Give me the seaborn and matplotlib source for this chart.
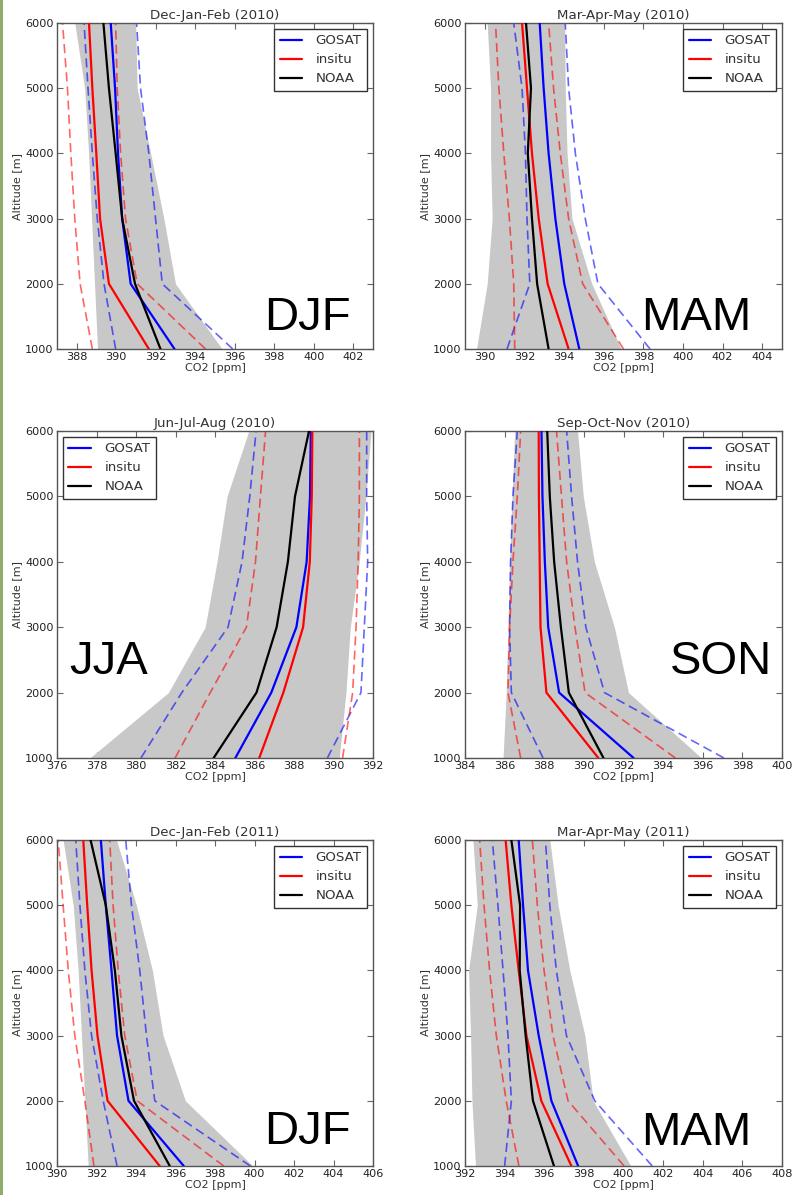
import matplotlib
matplotlib.use("Agg")
import matplotlib.pyplot as plt
from matplotlib.patches import Rectangle
import seaborn as sns

# ---------------- data ----------------
ALT = [1000, 2000, 3000, 4000, 5000, 6000]

# Dec-Jan-Feb 2010
DJF10_GOSAT = [392.95, 390.73, 390.30, 390.09, 389.94, 389.72]
DJF10_INSITU = [391.65, 389.63, 389.18, 388.99, 388.79, 388.62]
DJF10_NOAA = [392.24, 390.95, 390.30, 389.97, 389.63, 389.35]
DJF10_GOSAT_LO = [389.97, 389.38, 389.04, 388.79, 388.57, 388.37]
DJF10_GOSAT_HI = [395.90, 392.33, 391.99, 391.65, 391.23, 391.03]
DJF10_INSITU_LO = [388.79, 388.17, 387.90, 387.70, 387.53, 387.28]
DJF10_INSITU_HI = [394.52, 391.06, 390.47, 390.22, 390.05, 389.97]
DJF10_NOAA_LO = [389.05, 388.90, 388.75, 388.60, 388.40, 387.90]
DJF10_NOAA_HI = [395.36, 393.00, 392.41, 391.74, 391.06, 390.98]

# Mar-Apr-May 2010
MAM10_GOSAT = [394.77, 394.01, 393.56, 393.22, 392.97, 392.77]
MAM10_INSITU = [394.23, 393.17, 392.72, 392.38, 392.13, 391.88]
MAM10_NOAA = [393.22, 392.64, 392.38, 392.17, 392.33, 392.08]
MAM10_GOSAT_LO = [391.12, 392.27, 392.13, 392.05, 391.88, 391.46]
MAM10_GOSAT_HI = [398.34, 395.71, 395.07, 394.57, 394.23, 394.06]
MAM10_INSITU_LO = [391.51, 391.46, 391.24, 390.96, 390.71, 390.54]
MAM10_INSITU_HI = [397.00, 394.94, 394.23, 393.81, 393.47, 393.22]
MAM10_NOAA_LO = [389.58, 390.12, 390.37, 390.29, 390.29, 390.12]
MAM10_NOAA_HI = [396.88, 395.40, 394.40, 394.15, 394.06, 394.03]

# Jun-Jul-Aug 2010
JJA10_GOSAT = [385.03, 386.85, 388.12, 388.64, 388.81, 388.85]
JJA10_INSITU = [386.24, 387.46, 388.46, 388.80, 388.90, 388.93]
JJA10_NOAA = [383.93, 386.10, 387.12, 387.69, 388.05, 388.76]
JJA10_GOSAT_LO = [380.25, 382.32, 384.66, 385.37, 385.76, 386.08]
JJA10_GOSAT_HI = [389.69, 391.39, 391.56, 391.73, 391.68, 391.68]
JJA10_INSITU_LO = [381.98, 383.76, 385.59, 386.05, 386.30, 386.56]
JJA10_INSITU_HI = [390.46, 390.97, 391.14, 391.25, 391.31, 391.31]
JJA10_NOAA_LO = [377.66, 381.64, 383.50, 384.10, 384.61, 385.71]
JJA10_NOAA_HI = [390.29, 390.63, 390.85, 391.30, 391.64, 391.90]

# Sep-Oct-Nov 2010
SON10_GOSAT = [392.51, 388.75, 388.20, 388.03, 387.91, 387.86]
SON10_INSITU = [390.73, 388.11, 387.81, 387.77, 387.73, 387.72]
SON10_NOAA = [390.99, 389.24, 388.84, 388.50, 388.28, 388.15]
SON10_GOSAT_LO = [387.94, 386.34, 386.25, 386.30, 386.42, 386.64]
SON10_GOSAT_HI = [397.07, 391.04, 390.10, 389.68, 389.38, 389.13]
SON10_INSITU_LO = [386.81, 386.17, 386.25, 386.42, 386.64, 386.81]
SON10_INSITU_HI = [394.62, 390.06, 389.55, 389.13, 388.87, 388.62]
SON10_NOAA_LO = [385.92, 386.08, 386.17, 386.25, 386.37, 386.51]
SON10_NOAA_HI = [395.94, 392.25, 391.54, 390.53, 389.97, 389.68]

# Dec-Jan-Feb 2011
DJF11_GOSAT = [396.42, 393.62, 393.04, 392.76, 392.47, 392.22]
DJF11_INSITU = [395.20, 392.56, 392.05, 391.75, 391.53, 391.33]
DJF11_NOAA = [395.71, 393.90, 393.26, 392.93, 392.47, 391.70]
DJF11_GOSAT_LO = [393.04, 392.34, 391.75, 391.41, 391.16, 390.95]
DJF11_GOSAT_HI = [399.79, 394.95, 394.53, 394.19, 393.77, 393.48]
DJF11_INSITU_LO = [391.87, 391.41, 390.90, 390.57, 390.31, 390.06]
DJF11_INSITU_HI = [398.44, 394.06, 393.43, 393.10, 392.84, 392.67]
DJF11_NOAA_LO = [391.58, 391.41, 391.24, 391.07, 390.82, 390.31]
DJF11_NOAA_HI = [399.92, 396.50, 395.37, 394.83, 394.02, 393.01]

# Mar-Apr-May 2011
MAM11_GOSAT = [397.71, 396.36, 395.72, 395.18, 394.93, 394.71]
MAM11_INSITU = [397.37, 395.85, 395.10, 394.71, 394.34, 394.05]
MAM11_NOAA = [396.49, 395.43, 395.06, 394.76, 394.78, 394.34]
MAM11_GOSAT_LO = [394.00, 394.34, 394.17, 393.92, 393.66, 393.38]
MAM11_GOSAT_HI = [401.45, 398.55, 397.12, 396.61, 396.28, 396.06]
MAM11_INSITU_LO = [394.72, 394.08, 393.58, 393.24, 392.96, 392.74]
MAM11_INSITU_HI = [400.03, 397.20, 396.44, 395.99, 395.65, 395.40]
MAM11_NOAA_LO = [392.53, 392.35, 392.28, 392.18, 392.62, 392.40]
MAM11_NOAA_HI = [400.37, 398.47, 398.05, 397.29, 396.70, 396.28]

TITLES = ["Dec-Jan-Feb (2010)", "Mar-Apr-May (2010)", "Jun-Jul-Aug (2010)",
          "Sep-Oct-Nov (2010)", "Dec-Jan-Feb (2011)", "Mar-Apr-May (2011)"]
SEASONS = ["DJF", "MAM", "JJA", "SON", "DJF", "MAM"]
XLIMS = [(387, 403), (389, 405), (376, 392), (384, 400), (390, 406), (392, 408)]
SERIES = ["GOSAT", "insitu", "NOAA"]

PANELS = [
    (DJF10_GOSAT, DJF10_INSITU, DJF10_NOAA, DJF10_GOSAT_LO, DJF10_GOSAT_HI,
     DJF10_INSITU_LO, DJF10_INSITU_HI, DJF10_NOAA_LO, DJF10_NOAA_HI),
    (MAM10_GOSAT, MAM10_INSITU, MAM10_NOAA, MAM10_GOSAT_LO, MAM10_GOSAT_HI,
     MAM10_INSITU_LO, MAM10_INSITU_HI, MAM10_NOAA_LO, MAM10_NOAA_HI),
    (JJA10_GOSAT, JJA10_INSITU, JJA10_NOAA, JJA10_GOSAT_LO, JJA10_GOSAT_HI,
     JJA10_INSITU_LO, JJA10_INSITU_HI, JJA10_NOAA_LO, JJA10_NOAA_HI),
    (SON10_GOSAT, SON10_INSITU, SON10_NOAA, SON10_GOSAT_LO, SON10_GOSAT_HI,
     SON10_INSITU_LO, SON10_INSITU_HI, SON10_NOAA_LO, SON10_NOAA_HI),
    (DJF11_GOSAT, DJF11_INSITU, DJF11_NOAA, DJF11_GOSAT_LO, DJF11_GOSAT_HI,
     DJF11_INSITU_LO, DJF11_INSITU_HI, DJF11_NOAA_LO, DJF11_NOAA_HI),
    (MAM11_GOSAT, MAM11_INSITU, MAM11_NOAA, MAM11_GOSAT_LO, MAM11_GOSAT_HI,
     MAM11_INSITU_LO, MAM11_INSITU_HI, MAM11_NOAA_LO, MAM11_NOAA_HI),
]

# ---------------- style ----------------
sns.set_style("ticks")
plt.rcParams.update({
    "font.family": ["DejaVu Sans"],
    "xtick.direction": "in", "ytick.direction": "in",
    "xtick.top": True, "ytick.right": True,
    "xtick.major.size": 4, "ytick.major.size": 4,
    "xtick.color": "#666666", "ytick.color": "#666666",
    "xtick.labelcolor": "#222222", "ytick.labelcolor": "#222222",
    "axes.edgecolor": "#555555", "axes.linewidth": 1.0,
})

W, H = 792, 1195
fig = plt.figure(figsize=(W / 100, H / 100), dpi=100)
fig.patch.set_facecolor("white")

COLS = [(57, 316), (465, 317)]
ROWS = [(23, 349), (431, 758), (840, 1166)]
LEG_LOC = ["upper right", "upper right", "upper left", "upper right", "upper right", "upper right"]
LABEL_POS = [(0.655, 0.058), (0.555, 0.058), (0.04, 0.257), (0.645, 0.257), (0.655, 0.067), (0.555, 0.064)]

BLUE, RED, BLACK = "#0000ff", "#ff0000", "#000000"
DASH = (0, (5.5, 3))

for i, data in enumerate(PANELS):
    r, c = divmod(i, 2)
    x0, w = COLS[c]
    top, bot = ROWS[r]
    ax = fig.add_axes([x0 / W, (H - bot) / H, w / W, (bot - top) / H])
    g, ins, n, glo, ghi, ilo, ihi, nlo, nhi = data

    ax.fill_betweenx(ALT, nlo, nhi, color="#c8c8c8", lw=0, zorder=1)
    for arr, col in [(glo, BLUE), (ghi, BLUE), (ilo, RED), (ihi, RED)]:
        sns.lineplot(x=arr, y=ALT, orient="y", sort=False, estimator=None,
                     color=col, lw=1.2, alpha=0.6, linestyle=DASH, ax=ax, zorder=2)
    handles = []
    for arr, col, lab in [(g, BLUE, SERIES[0]), (ins, RED, SERIES[1]), (n, BLACK, SERIES[2])]:
        sns.lineplot(x=arr, y=ALT, orient="y", sort=False, estimator=None,
                     color=col, lw=1.6, ax=ax, zorder=3)
        line = ax.lines[-1]
        line.set_label(lab)
        handles.append(line)

    lo, hi = XLIMS[i]
    ax.set_xlim(lo, hi)
    ax.set_ylim(1000, 6000)
    ax.set_xticks(range(lo + (lo % 2), hi + 1, 2))
    ax.set_yticks(ALT)
    ax.tick_params(labelsize=8.1, pad=2.5)
    ax.set_xlabel("CO2 [ppm]", fontsize=8, color="#333333", labelpad=0.5)
    ax.set_ylabel("Altitude [m]", fontsize=8, color="#333333", labelpad=2)
    ax.set_title(TITLES[i], fontsize=9.6, color="#333333", pad=3)
    for s in ax.spines.values():
        s.set_visible(True)

    leg = ax.legend(handles=handles, loc=LEG_LOC[i], fontsize=9.6, frameon=True,
                    fancybox=False, framealpha=1, edgecolor="#333333",
                    handlelength=1.7, handletextpad=1.0, labelspacing=0.45,
                    borderaxespad=0.45, borderpad=0.4)
    leg.get_frame().set_linewidth(1.0)
    for t in leg.get_texts():
        t.set_color("#333333")

    lx, ly = LABEL_POS[i]
    ax.text(lx, ly, SEASONS[i], transform=ax.transAxes, fontsize=34,
            family=["Liberation Sans", "DejaVu Sans"], color="black",
            ha="left", va="baseline", zorder=5)

fig.add_artist(Rectangle((0, 0), 2.5 / W, 1, transform=fig.transFigure,
                         facecolor="#8fae6a", edgecolor="none"))

fig.savefig("out.png", dpi=100, facecolor="white")
